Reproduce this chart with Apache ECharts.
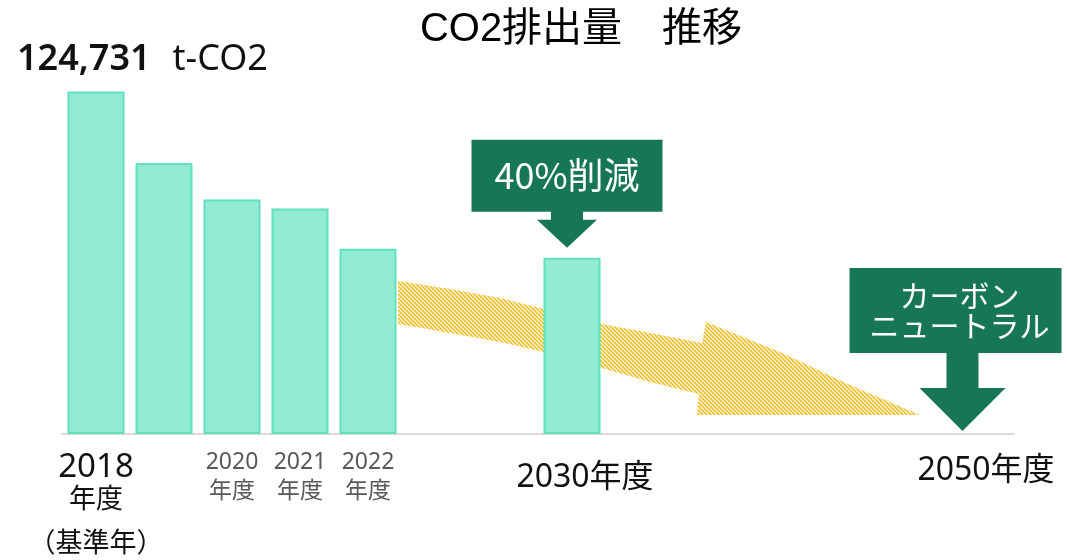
<!DOCTYPE html>
<html>
<head>
<meta charset="utf-8">
<script src="https://cdn.jsdelivr.net/npm/echarts@6/dist/echarts.min.js"></script>
<style>
  html, body { margin: 0; padding: 0; background: #ffffff; }
  #chart { width: 1067px; height: 560px; }
</style>
</head>
<body>
<div id="chart"></div>
<script>
// Category slots along the time axis (spacer slots keep the gaps before 2030 and 2050)
const slots = ['2018', '2019', '2020', '2021', '2022', 's1', 's2', '2030', 's3', 's4', 's5', 's6', 's7', '2050'];
// Tick labels drawn under each slot
const tickLabels = ['2018\n年度\n（基準年）', '', '2020\n年度', '2021\n年度', '2022\n年度', '', '', '2030年度', '', '', '', '', '', '2050年度'];
// CO2 emissions (t-CO2)
const emissions = [124731, 98700, 85400, 82100, 67500, null, null, 64200, null, null, null, null, null, 0];
const unitLabel = 't-CO2';
const chartTitle = 'CO2排出量　推移';
const target2030Text = '40%削減';
const target2050Text = 'カーボン\nニュートラル';

const SANS = "'Noto Sans', 'Noto Sans CJK JP', sans-serif";
const GREEN = '#187658';

function hatchCanvas() {
  const s = 4;
  const c = document.createElement('canvas');
  c.width = s; c.height = s;
  const g = c.getContext('2d');
  g.strokeStyle = '#F0BF2C';
  g.lineWidth = 1.7;
  g.beginPath();
  g.moveTo(-1, -1); g.lineTo(s + 1, s + 1);
  g.moveTo(s - 1, -1); g.lineTo(s + 1, 1);
  g.moveTo(-1, s - 1); g.lineTo(1, s + 1);
  g.stroke();
  return c;
}

function formatTick(value, index) {
  const text = tickLabels[index];
  if (!text) return '';
  const lines = text.split('\n');
  if (index === 0) {
    return '{b1|' + lines[0] + '}\n{b2|' + lines[1] + '}\n{b3|' + lines[2] + '}';
  }
  if (lines.length > 1) {
    return lines.map(l => '{m|' + l + '}').join('\n');
  }
  return (value === '2030' ? '{t30|' : '{t50|') + text + '}';
}

// Bars; the zero-height 2050 bar carries no outline
const barData = emissions.map(v => (v === 0 ? { value: v, itemStyle: { borderWidth: 0 } } : v));

const chart = echarts.init(document.getElementById('chart'), null, { renderer: 'canvas' });

chart.setOption({
  animation: false,
  backgroundColor: '#ffffff',
  title: {
    text: chartTitle,
    left: 576,
    top: 5,
    textAlign: 'center',
    textStyle: {
      fontFamily: "'Liberation Sans', 'Noto Sans CJK JP', sans-serif",
      fontSize: 40,
      fontWeight: 'normal',
      color: '#000000'
    }
  },
  grid: {
    left: 62,
    right: 53,
    top: 77,
    bottom: 126,
    containLabel: false,
    outerBoundsMode: 'none'
  },
  xAxis: {
    type: 'category',
    data: slots,
    boundaryGap: true,
    axisTick: { show: false },
    axisLine: { show: true, lineStyle: { color: '#D9D9D9', width: 2 } },
    axisLabel: {
      interval: 0,
      margin: 14,
      hideOverlap: false,
      fontFamily: SANS,
      color: '#111111',
      formatter: formatTick,
      rich: {
        b1: { fontFamily: SANS, fontSize: 33, lineHeight: 40, color: '#111111' },
        b2: { fontFamily: SANS, fontSize: 27, lineHeight: 24, color: '#111111' },
        b3: { fontFamily: SANS, fontSize: 27, lineHeight: 64, color: '#111111' },
        m: { fontFamily: SANS, fontSize: 23, lineHeight: 29, color: '#595959' },
        t30: { fontFamily: SANS, fontSize: 32, lineHeight: 60, color: '#111111', padding: [0, 0, 0, 26] },
        t50: { fontFamily: SANS, fontSize: 32, lineHeight: 46, color: '#111111', padding: [0, 0, 0, 12] }
      }
    }
  },
  yAxis: {
    type: 'value',
    min: 0,
    max: 130000,
    show: false,
    splitLine: { show: false }
  },
  series: [{
    name: 'CO2排出量',
    type: 'bar',
    data: barData,
    barWidth: 57,
    z: 2,
    itemStyle: {
      color: '#93EBD3',
      borderColor: '#5FE2BC',
      borderWidth: 2
    }
  }]
});

// Annotations placed from the bars' own pixel positions
const baseTopPx = chart.convertToPixel({ xAxisIndex: 0, yAxisIndex: 0 }, ['2018', emissions[0]]);
const barTopPx = chart.convertToPixel({ xAxisIndex: 0, yAxisIndex: 0 }, ['2030', emissions[7]]);
const zeroPx = chart.convertToPixel({ xAxisIndex: 0, yAxisIndex: 0 }, ['2050', emissions[13]]);

function callout(tipX, tipY, boxW, boxH, boxCx, textDx, shaftLen, shaftHalf, headHalf, headLen, text, fontSize, lineHeight) {
  const headTop = tipY - headLen;
  const boxBottom = headTop - shaftLen;
  const boxTop = boxBottom - boxH;
  return [
    {
      type: 'rect', z: 100,
      shape: { x: boxCx - boxW / 2, y: boxTop, width: boxW, height: boxH },
      style: { fill: GREEN }
    },
    {
      type: 'polygon', z: 100,
      shape: {
        points: [
          [tipX - shaftHalf, boxBottom - 1], [tipX + shaftHalf, boxBottom - 1],
          [tipX + shaftHalf, headTop], [tipX + headHalf, headTop],
          [tipX, tipY], [tipX - headHalf, headTop], [tipX - shaftHalf, headTop]
        ]
      },
      style: { fill: GREEN }
    },
    {
      type: 'text', z: 101,
      x: boxCx + textDx, y: boxTop + boxH / 2,
      style: {
        text: text,
        fill: '#ffffff',
        fontFamily: "'Noto Sans CJK JP', 'Noto Sans', sans-serif",
        fontSize: fontSize,
        lineHeight: lineHeight,
        align: 'center',
        verticalAlign: 'middle'
      }
    }
  ];
}

// Hatched trend arrow running from 2022 towards 2050
const trendArrow = [
  [398, 281], [450, 289], [500, 298], [544, 309], [602, 324], [650, 333], [702, 343],
  [706, 322], [780, 352], [850, 385], [920, 415], [697, 415], [699, 394],
  [650, 382], [602, 368], [544, 352], [500, 342], [450, 333], [398, 324]
];

const tip30X = barTopPx[0] - 5;
const tip30Y = barTopPx[1] - 10;
const tip50X = zeroPx[0] - 17.5;
const tip50Y = zeroPx[1] - 3;

chart.setOption({
  graphic: [
    {
      type: 'polygon', z: 0,
      shape: { points: trendArrow },
      style: { fill: { type: 'pattern', image: hatchCanvas(), repeat: 'repeat' } }
    },
    {
      type: 'text', z: 10,
      x: 17, y: baseTopPx[1] - 32,
      style: {
        text: '{v|' + emissions[0].toLocaleString('en-US') + '}{u|' + unitLabel + '}',
        verticalAlign: 'middle',
        rich: {
          v: { fontFamily: SANS, fontSize: 36, fontWeight: 600, fill: '#111111', padding: [0, 22, 0, 0] },
          u: { fontFamily: SANS, fontSize: 36, fill: '#111111' }
        }
      }
    }
  ]
    .concat(callout(tip30X, tip30Y, 191, 72, tip30X, 0, 8, 16, 30, 28, target2030Text, 36, 40))
    .concat(callout(tip50X, tip50Y, 212, 85, tip50X - 7, 4, 35, 16, 43, 43, target2050Text, 30, 30))
});
</script>
</body>
</html>
